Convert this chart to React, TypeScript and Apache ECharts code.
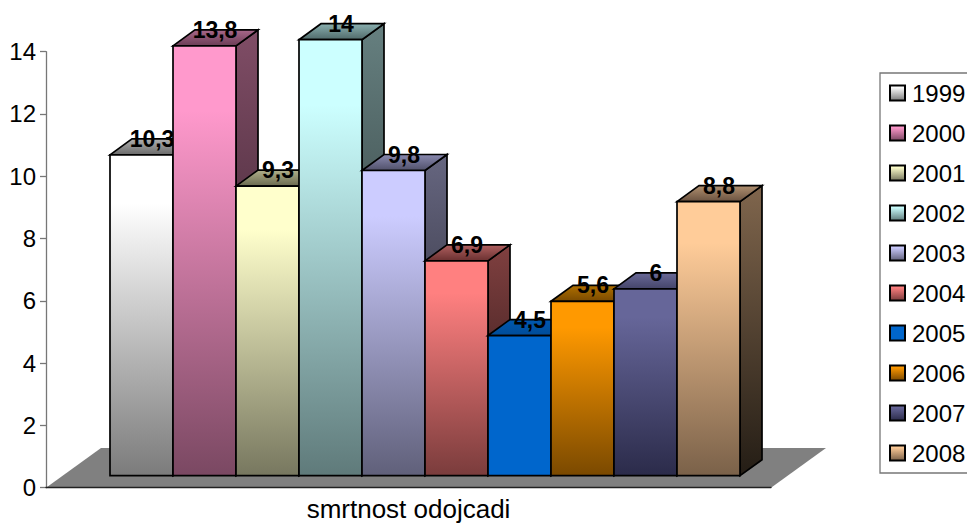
import React, { useEffect, useRef } from "react";
import * as echarts from "echarts";

const category = ["smrtnost odojcadi"];
const years = ["1999", "2000", "2001", "2002", "2003", "2004", "2005", "2006", "2007", "2008"];
const values = [10.3, 13.8, 9.3, 14, 9.8, 6.9, 4.5, 5.6, 6, 8.8];
const topColors = ["#ffffff", "#ff99cc", "#ffffcc", "#ccffff", "#ccccff", "#ff8080", "#0066cc", "#ff9900", "#666699", "#ffcc99"];
const bottomColors = ["#7b7b7b", "#7a4862", "#77775f", "#5f7a7a", "#60607a", "#7a3c3c", "#0066cc", "#7a4900", "#2b2b4a", "#7a6149"];
const capBack = ["#b0b0b0", "#a8688a", "#b0b08a", "#8ab0b0", "#8a8ab0", "#b06060", "#0058b0", "#b07000", "#6a6a98", "#b09070"];
const capFront = ["#6a6a6a", "#6a3c55", "#6a6a50", "#506a6a", "#50506a", "#6a3030", "#004c98", "#7a4a00", "#45456a", "#6a5240"];

const FONT = "Liberation Sans";
const BAR_W = 63;
const DX = 22;
const DY = -16;
const SHIFT_X = 16.5;
const SHIFT_Y = -12;

function scale(hex: string, k: number) {
  const n = parseInt(hex.slice(1), 16);
  const c = [(n >> 16) & 255, (n >> 8) & 255, n & 255].map((v) => Math.round(v * k));
  return `rgb(${c[0]},${c[1]},${c[2]})`;
}
const vGrad = (a: string, b: string, hold = 0) =>
  new echarts.graphic.LinearGradient(0, 0, 0, 1, [
    { offset: 0, color: a },
    { offset: hold, color: a },
    { offset: 1, color: b },
  ]);

export default function App() {
  const ref = useRef<HTMLDivElement>(null);
  useEffect(() => {
    document.body.style.margin = "0";
    document.body.style.overflow = "hidden";
    const chart = echarts.init(ref.current!, null, { renderer: "svg" });

    const floor: any = {
      type: "custom",
      name: "floor",
      silent: true,
      z: 1,
      legendHoverLink: false,
      data: [[0, 0]],
      renderItem: (_p: any, api: any) => {
        const c = api.coord([0, 0]);
        const half = api.size([1, 0])[0] / 2;
        const fx = 55;
        const fy = -39.7;
        return {
          type: "polygon",
          shape: {
            points: [
              [c[0] - half, c[1]],
              [c[0] - half + fx, c[1] + fy],
              [c[0] + half + fx, c[1] + fy],
              [c[0] + half, c[1]],
            ],
          },
          style: { fill: "#808080", stroke: "none" },
        };
      },
    };

    const bars: any[] = years.map((y, i) => ({
      type: "custom",
      name: y,
      z: 2,
      itemStyle: {
        color: vGrad(topColors[i], bottomColors[i], 0.1),
        borderColor: "#000",
        borderWidth: 1.5,
      },
      data: [[0, values[i]]],
      renderItem: (_p: any, api: any) => {
        const top = api.coord([0, api.value(1)]);
        const base = api.coord([0, 0]);
        const x0 = top[0] + SHIFT_X - (BAR_W * years.length) / 2 + BAR_W * i;
        const x1 = x0 + BAR_W;
        const yt = top[1] + SHIFT_Y;
        const yb = base[1] + SHIFT_Y;
        const line = { stroke: "#000", lineWidth: 1.7, lineJoin: "miter" };
        return {
          type: "group",
          children: [
            {
              type: "polygon",
              shape: { points: [[x1, yt], [x1 + DX, yt + DY], [x1 + DX, yb + DY], [x1, yb]] },
              style: { fill: vGrad(scale(topColors[i], 0.5), scale(topColors[i], 0.14)), ...line },
            },
            {
              type: "polygon",
              shape: { points: [[x0, yt], [x0 + DX, yt + DY], [x1 + DX, yt + DY], [x1, yt]] },
              style: { fill: vGrad(capBack[i], capFront[i]), ...line },
            },
            {
              type: "rect",
              shape: { x: x0, y: yt, width: BAR_W, height: yb - yt },
              style: { fill: vGrad(topColors[i], bottomColors[i], 0.15), ...line },
            },
            {
              type: "text",
              x: x0 + BAR_W / 2 + 10.5,
              y: yt - 16,
              style: {
                text: String(values[i]).replace(".", ","),
                fill: "#000",
                font: `bold 23px "${FONT}"`,
                align: "center",
                verticalAlign: "middle",
              },
            },
          ],
        };
      },
    }));

    chart.setOption({
      animation: false,
      backgroundColor: "#fff",
      textStyle: { fontFamily: FONT },
      grid: { left: 46, right: 196, top: 51.7, bottom: 37.3, outerBoundsMode: "none" },
      xAxis: {
        type: "category",
        data: category,
        axisLine: { lineStyle: { color: "#222", width: 1.3 } },
        axisTick: { length: 7, lineStyle: { color: "#777", width: 1.3 } },
        axisLabel: { color: "#000", fontSize: 26, lineHeight: 26, margin: 8, fontFamily: FONT },
        z: 5,
      },
      yAxis: {
        type: "value",
        min: 0,
        max: 14,
        interval: 2,
        splitLine: { show: false },
        axisLine: { show: true, lineStyle: { color: "#777", width: 1.3 } },
        axisTick: { show: true, length: 6, lineStyle: { color: "#777", width: 1.3 } },
        axisLabel: { color: "#000", fontSize: 24, margin: 10, fontFamily: FONT },
      },
      legend: {
        show: true,
        orient: "vertical",
        left: 880,
        top: 73,
        padding: [8, 30, 8, 9],
        data: years,
        itemWidth: 15,
        itemHeight: 15,
        itemGap: 16,
        borderColor: "#777",
        borderWidth: 1.3,
        icon: "rect",
        textStyle: { color: "#000", fontSize: 24, fontFamily: FONT, padding: [0, 0, 0, 2] },
      },
      series: [floor, ...bars],
    });
    return () => chart.dispose();
  }, []);
  return <div ref={ref} style={{ width: 967, height: 525, overflow: "hidden" }} />;
}
